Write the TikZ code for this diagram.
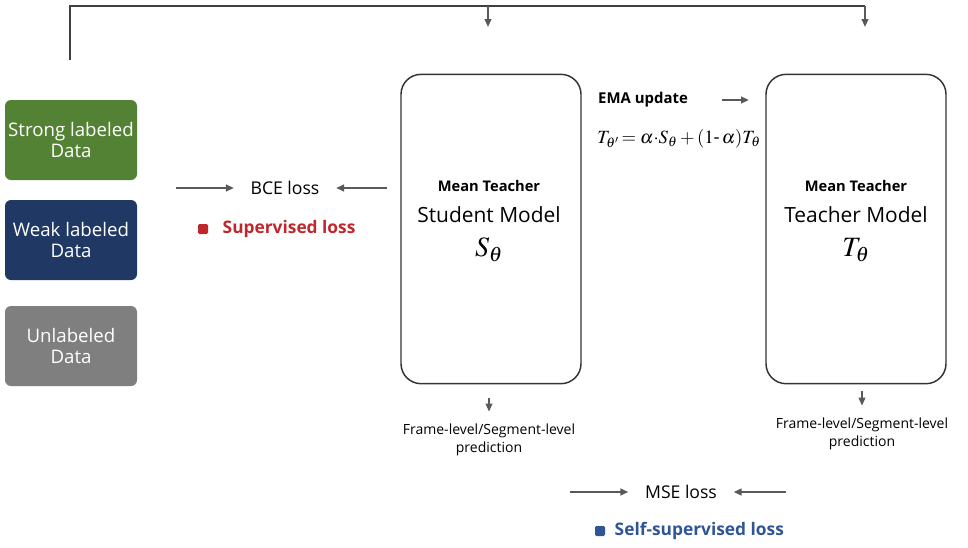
\documentclass[tikz,border=0pt]{standalone}
\usepackage{mathptmx}
\usepackage[no-math]{fontspec}
\setmainfont{Open Sans}
\usetikzlibrary{positioning, arrows.meta}

\definecolor{strongcol}{HTML}{548235}
\definecolor{weakcol}{HTML}{1F3864}
\definecolor{unlcol}{HTML}{7F7F7F}
\definecolor{supred}{HTML}{C0272D}
\definecolor{selfblue}{HTML}{2F5597}
\definecolor{arrowgray}{HTML}{595959}

\begin{document}
\begin{tikzpicture}[
        x=0.75pt, y=-0.75pt,
        data/.style={rectangle, rounded corners=4.5pt, minimum width=99pt, minimum height=60pt, align=center, text=white, font=\fontsize{14}{15.5}\selectfont, inner sep=0pt},
        model/.style={draw=black!80, line width=1.1pt, rectangle, rounded corners=15pt, minimum width=135pt, minimum height=232pt},
        loss/.style={font=\fontsize{13.2}{15}\selectfont},
        pred/.style={align=center, font=\fontsize{10.5}{13}\selectfont},
        arrow/.style={-{Triangle[length=6pt, width=5pt]}, draw=arrowgray, line width=1.6pt},
        bracket/.style={draw=black!75, line width=2.2pt}
    ]
        \useasboundingbox (0,0) rectangle (968,547);

        \node[data, fill=strongcol] (strong_data) at (71,140) {Strong labeled\\Data};
        \node[data, fill=weakcol] (weak_data) at (71,240) {Weak labeled\\Data};
        \node[data, fill=unlcol] (unl_data) at (71,346) {Unlabeled\\Data};

        \node[model] (student) at (491,229) {};
        \node[font=\bfseries\fontsize{11}{12}\selectfont] (mt_s) at (489,186) {Mean Teacher};
        \node[font=\fontsize{15.7}{17}\selectfont] (name_s) at (489,215) {Student Model};
        \node[font=\fontsize{21}{23}\selectfont] (sym_s) at (489,250) {$S_\theta$};

        \node[model] (teacher) at (856,229) {};
        \node[font=\bfseries\fontsize{11}{12}\selectfont] (mt_t) at (856,186) {Mean Teacher};
        \node[font=\fontsize{15.7}{17}\selectfont] (name_t) at (856,215) {Teacher Model};
        \node[font=\fontsize{21}{23}\selectfont] (sym_t) at (856,250) {$T_\theta$};

        \coordinate (corner_l) at (70,60);
        \coordinate (corner_r) at (865,6);
        \coordinate (drop_s) at (488,6);
        \coordinate (drop_t) at (865,6);
        \draw[bracket] (corner_l) |- (corner_r);
        \draw[arrow, line width=1.3pt] (drop_s) -- ++(0,21);
        \draw[arrow, line width=1.3pt] (drop_t) -- ++(0,21);

        \node[loss] (bce) at (285,188) {BCE loss};
        \coordinate (bce_in) at (176,188);
        \draw[arrow, shorten >=9pt] (bce_in) -- (bce);
        \draw[arrow, shorten <=10pt, shorten >=9pt] (student.west |- bce) -- (bce);

        \node[loss, text=supred, font=\bfseries\fontsize{13}{15}\selectfont, anchor=west] (sup_loss) at (218,229) {Supervised loss};
        \fill[supred, rounded corners=1pt] (198,224) rectangle (208,234);

        \node[font=\bfseries\fontsize{11.2}{13}\selectfont] (ema) at (643,100) {EMA update};
        \coordinate (ema_from) at (722,100);
        \coordinate (ema_to) at (749,100);
        \draw[arrow] (ema_from) -- (ema_to);
        \node[font=\fontsize{14}{16}\selectfont, anchor=west, inner sep=0pt] (ema_eq) at (597,139) {$T_{\theta'}\!=\alpha{\cdot}S_\theta+(1\mbox{-}\,\alpha)T_\theta$};

        \node[pred] (pred_s) at (489,440) {Frame-level/Segment-level\\prediction};
        \node[pred] (pred_t) at (862,434) {Frame-level/Segment-level\\prediction};
        \draw[arrow, line width=1.3pt, shorten <=10pt, shorten >=6pt] (student.south -| pred_s) -- (pred_s);
        \draw[arrow, line width=1.3pt, shorten <=5pt, shorten >=6pt] (teacher.south -| pred_t) -- (pred_t);

        \node[loss] (mse) at (681,492) {MSE loss};
        \coordinate (mse_l) at (570,492);
        \coordinate (mse_r) at (786,492);
        \draw[arrow, shorten >=9pt] (mse_l) -- (mse);
        \draw[arrow, shorten >=9pt] (mse_r) -- (mse);

        \node[loss, text=selfblue, font=\bfseries\fontsize{13}{15}\selectfont, anchor=west] (self_loss) at (610,531) {Self-supervised loss};
        \fill[selfblue, rounded corners=1pt] (595,526) rectangle (605,536);

    \end{tikzpicture}
\end{document}
